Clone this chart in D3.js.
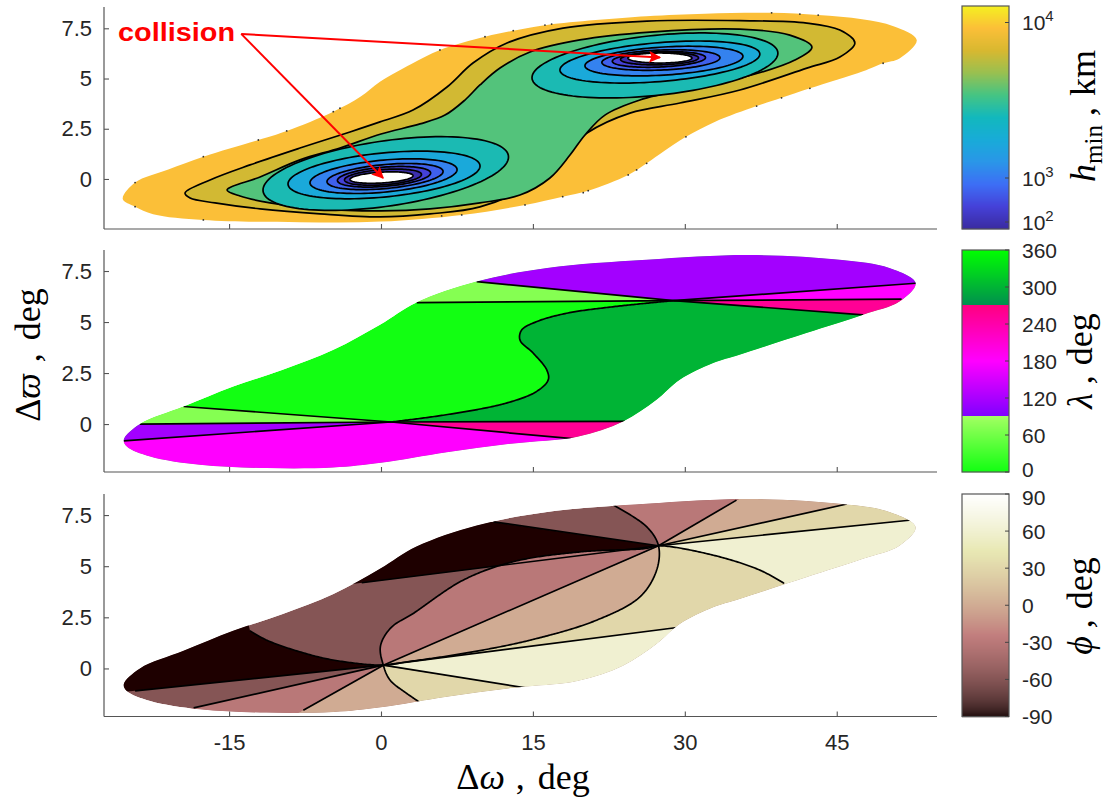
<!DOCTYPE html>
<html>
<head>
<meta charset="utf-8">
<script src="https://cdn.jsdelivr.net/npm/d3@7"></script>
<style>
  body { margin: 0; background: #fff; }
  svg { display: block; }
</style>
</head>
<body>
<svg id="chart" width="1109" height="801"></svg>
<script>
// ---------------- data ----------------
const xTicks = [-15, 0, 15, 30, 45];
const yTicks = [0, 2.5, 5, 7.5];
const xDomain = [-27.35, 54.9];
const yDomainTop = [-2.49, 8.56];
const yDomainLower = [-2.35, 8.53];

// outline of the region where solutions exist (Δω, Δϖ), deg
const domainUpper = [[-25.4,-0.77],[-23.8,0.0],[-19.5,0.86],[-14.6,1.84],[-9.7,2.66],[-4.7,3.64],[-0.1,4.87],[3.5,5.96],[9.45,6.99],[16.4,7.65],[26.2,8.05],[36.4,8.28],[45.3,8.05],[50.2,7.65],[52.8,6.91]];
const domainLower = [[51.2,6.0],[47.6,5.36],[42.0,4.46],[35.4,3.4],[32.8,2.99],[29.5,2.17],[27.2,1.19],[23.9,0.13],[19.4,-0.62],[13.1,-0.95],[6.5,-1.38],[0.0,-1.9],[-4.7,-2.13],[-11.3,-2.16],[-17.9,-2.0],[-22.8,-1.59],[-25.1,-1.1]];

// outermost h_min contour (upper edge left→right, lower edge right→left) and grid specks on it
const hminOuterUpper = [[-25.5,-1.0],[-24.28,-0.18],[-21.0,0.47],[-17.54,1.11],[-12.11,1.94],[-9.31,2.39],[-4.71,3.35],[-2.0,4.1],[-0.1,4.84],[3.0,5.72],[5.82,6.42],[10.27,7.08],[13.06,7.38],[16.52,7.68],[26.2,8.1],[32.0,8.23],[38.57,8.27],[43.17,8.16],[47.5,7.95],[50.6,7.6],[52.9,6.92]];
const hminOuterLower = [[51.2,6.0],[49.58,5.76],[47.6,5.36],[42.35,4.51],[39.55,4.04],[37.09,3.63],[33.0,2.85],[30.11,2.1],[28.0,1.4],[26.23,0.78],[24.41,0.2],[20.46,-0.58],[17.94,-0.88],[14.22,-1.29],[7.97,-1.79],[0.0,-2.12],[-8.0,-2.15],[-17.54,-2.04],[-22.5,-1.75],[-24.28,-1.38]];
const hminSpecks = [[-24.28,-0.18],[-24.28,-1.38],[-17.54,1.11],[-17.54,-2.04],[-12.11,1.94],[-9.31,2.39],[-4.71,3.35],[-4.05,3.52],[5.82,6.42],[10.27,7.08],[13.06,7.38],[16.19,7.66],[16.85,7.71],[5.99,-1.84],[7.97,-1.79],[14.22,-1.29],[17.94,-0.88],[19.97,-0.68],[20.46,-0.58],[24.41,0.2],[25.24,0.45],[26.23,0.78],[30.11,2.1],[37.09,3.63],[38.57,8.27],[41.36,8.21],[43.17,8.16],[49.58,5.76],[42.35,4.51],[39.55,4.04]];

// h_min contour levels (km) used to colour the filled bands, outermost first
const hminBands = [9200, 6400, 3600, 2600, 1700, 1070, 500, 220, 90];
const hminTicks = [100, 1000, 10000];

// closed contours of h_min enclosing both wells
const contourA = [[-19.35,-0.70],[-16.88,-0.05],[-12.93,0.70],[-8.00,1.54],[-3.06,2.34],[-0.10,2.84],[3.16,3.43],[6.52,4.58],[9.08,5.77],[12.44,6.77],[17.97,7.51],[26.26,7.86],[35.44,7.88],[42.05,7.76],[45.31,7.41],[46.79,6.77],[45.31,6.07],[42.05,5.52],[35.44,4.43],[29.52,3.78],[24.58,3.28],[20.34,2.29],[17.67,1.09],[14.71,-0.30],[9.77,-1.39],[4.84,-1.74],[-0.10,-1.89],[-6.02,-1.74],[-11.94,-1.49],[-16.39,-1.19],[-18.85,-0.95]];
const contourB = [[-15.20,-0.55],[-11.94,0.10],[-8.00,0.95],[-4.05,1.54],[0,2.24],[3.85,2.74],[6.32,3.18],[8.29,3.93],[9.77,4.68],[11.75,5.52],[14.71,6.32],[19.64,6.92],[26.55,7.31],[35.44,7.46],[40.37,7.16],[42.55,6.57],[40.87,5.92],[35.44,5.02],[30.50,4.53],[25.57,3.93],[22.11,3.18],[20.14,2.19],[18.66,1.19],[16.68,0.05],[13.72,-0.80],[9.77,-1.19],[4.84,-1.49],[0,-1.59],[-6.02,-1.49],[-10.96,-1.19],[-13.92,-0.85]];
// inner rings around each well: centre Δω, centre Δϖ, half-width, half-height, tilt (innermost = collision zone)
const leftWellRings = [[0.47,0.27,12.12,1.64,0.068],[0.3,0.2,9.48,1.1,0.047],[0.25,0.14,7.26,0.8,0.045],[0.4,0.12,5.73,0.6,0.044],[0.3,0.11,4.6,0.48,0.04],[0.2,0.09,3.8,0.38,0.035],[0.05,0.07,3.11,0.27,0.03]];
const rightWellRings = [[27.05,5.65,12.14,1.5,0.05],[27.54,5.82,9.87,0.97,0.04],[27.94,5.87,7.8,0.7,0.03],[27.64,5.92,5.83,0.5,0.02],[27.44,5.95,4.6,0.38,0.02],[27.5,5.99,3.85,0.31,0.01],[27.54,6.02,3.16,0.25,0.0]];

// annotation
const collisionText = "collision";
const collisionAnchor = [-25.96, 7.31];
const arrowStart = [-13.8, 7.22];
const arrowTargets = [[27.54, 6.05], [0.2, 0.05]];

// λ panel: branch points and level lines
const lamL = [1.0, 0.1];
const lamR = [28.9, 6.05];
const lamSCurve = [[1.0,0.1],[6.49,0.46],[12.4,1.03],[15.37,1.6],[16.52,2.17],[16.36,2.66],[15.04,3.47],[13.72,4.12],[13.89,4.61],[15.37,5.02],[18.33,5.43],[22.94,5.75],[28.9,6.05]];
const lamEndsL = [[-25.4,-0.82],[-19.5,0.86],[19.15,-0.73],[-23.8,0.0],[24.1,0.13]];
const lamEndsR = [[52.8,6.9],[9.45,6.98],[47.6,5.35],[3.52,5.95],[51.4,6.12]];
const lamValues = [0, 300, 72, 115, 180, 255]; // bright green, dark green, light green, violet, magenta, rose
const lamTicks = [0, 60, 120, 180, 240, 300, 360];

// ϕ panel: branch points and level lines
const phiL = [0.23, 0.16];
const phiR = [27.4, 6.0];
const phiArc1 = [[4.51,-1.88],[2.54,-1.22],[0.89,-0.57],[0.23,0.16],[-0.05,1.1],[1.0,2.0],[3.19,2.69],[8.12,4.32],[13.06,5.22],[19.64,5.7],[26.23,5.87],[27.4,6.0],[32.8,5.54],[37.4,4.81],[39.8,4.16]];
const phiArc2 = [[22.94,7.99],[26.23,6.93],[27.4,6.0],[27.22,4.81],[25.57,3.5],[21.29,2.36],[14.71,1.38],[8.12,0.73],[2.54,0.32],[0.23,0.16],[-4.71,0.41],[-8.0,0.81],[-11.28,1.38],[-12.93,1.84]];
const phiRaysL = [[-24.28,-1.1],[-18.5,-1.93],[-7.67,-2.04],[16.19,-1.1],[29.84,2.04]];
const phiRaysR = [[11.09,7.17],[-1.9,4.19],[35.1,8.23],[46.0,8.04],[52.4,7.26]];
const phiTicks = [-90, -60, -30, 0, 30, 60, 90];

// ---------------- layout ----------------
const plotLeft = 104, plotRight = 937;
const cbLeft = 962, cbRight = 1009;
const SANS = "'Liberation Sans', Arial, sans-serif";
const SERIF = "'Liberation Serif', 'DejaVu Serif', serif";
const INK = "#262626";
const LINE_W = 1.7;

const svg = d3.select("#chart");
const defs = svg.append("defs");
const scratch = svg.append("g").attr("visibility", "hidden");

const x = d3.scaleLinear().domain(xDomain).range([plotLeft, plotRight]);
const y1 = d3.scaleLinear().domain(yDomainTop).range([229, 7]);
const y2 = d3.scaleLinear().domain(yDomainLower).range([472, 250]);
const y3 = d3.scaleLinear().domain(yDomainLower).range([716.5, 494]);

// ---------------- colour maps ----------------
const parulaStops = ["#3a2aa0", "#4541d8", "#3d6ef5", "#2a96e8", "#18abd8", "#12b8bd", "#45c483", "#99c050", "#d8b830", "#fbbf38", "#f5f020"];
const parula = d3.scaleLinear().domain(d3.range(parulaStops.length).map(i => i / (parulaStops.length - 1))).range(parulaStops).clamp(true);
const cbHmin = d3.scaleLinear().domain([2, 3, 4]).range([222, 178, 22.5]);
const hminColor = h => parula((229 - cbHmin(Math.log10(h))) / 223);

const lambdaColor = d3.scaleLinear()
  .domain([0, 90, 90.001, 180, 270, 270.001, 360])
  .range(["#12ff12", "#a2ff62", "#7f00ff", "#ff00ff", "#ff0080", "#008f4f", "#00ff00"])
  .clamp(true);

// MATLAB-style "pink" map: sqrt((2*gray + hot)/3)
function pinkMap(t) {
  t = Math.max(0, Math.min(1, t));
  const k = 1 + t * 63;
  const hr = Math.min(1, k / 24);
  const hg = Math.max(0, Math.min(1, (k - 24) / 24));
  const hb = Math.max(0, Math.min(1, (k - 48) / 16));
  const f = v => Math.round(255 * Math.sqrt((2 * t + v) / 3));
  return `rgb(${f(hr)},${f(hg)},${f(hb)})`;
}
const phiColor = v => pinkMap((v + 90) / 180);

// ---------------- helpers ----------------
const toPx = ys => d => [x(d[0]), ys(d[1])];
const straight = d3.line();
const closedSmooth = d3.line().curve(d3.curveCatmullRomClosed);
function densify(px, curve) {
  const p = scratch.append("path").attr("d", d3.line().curve(curve)(px));
  const node = p.node();
  const len = node.getTotalLength();
  const n = Math.max(2, Math.ceil(len / 1.5));
  const out = d3.range(n + 1).map(i => { const q = node.getPointAtLength(len * i / n); return [q.x, q.y]; });
  p.remove();
  return out;
}
function nearestIndex(arr, pt) {
  let bi = 0, bd = Infinity;
  arr.forEach((q, i) => { const d = (q[0] - pt[0]) ** 2 + (q[1] - pt[1]) ** 2; if (d < bd) { bd = d; bi = i; } });
  return bi;
}
const domainPts = domainUpper.concat(domainLower);
const domainPath = ys => closedSmooth(domainPts.map(toPx(ys)));
function ringPts([cx, cy, rx, ry, sh]) {
  return d3.range(120).map(i => { const a = i / 120 * 2 * Math.PI; const dx = rx * Math.cos(a); return [cx + dx, cy + ry * Math.sin(a) + sh * dx]; });
}
function addClip(id, ys) {
  defs.append("clipPath").attr("id", id).append("path").attr("d", domainPath(ys));
}
const polyPx = pts => straight(pts) + "Z";
const strokeLine = (g, d) => g.append("path").attr("d", d).attr("fill", "none").attr("stroke", "#000").attr("stroke-width", LINE_W);

// ---------------- axes ----------------
function drawAxes(ys, top, bottom, showX) {
  const gy = svg.append("g").attr("transform", `translate(${plotLeft},0)`)
    .call(d3.axisLeft(ys).tickValues(yTicks).tickSize(-5).tickSizeOuter(0).tickPadding(12).tickFormat(d => String(d)));
  const gx = svg.append("g").attr("transform", `translate(0,${bottom})`)
    .call(d3.axisBottom(x).tickValues(xTicks).tickSize(-5).tickSizeOuter(0).tickPadding(18).tickFormat(d => showX ? String(d) : ""));
  [gx, gy].forEach(g => {
    g.select(".domain").attr("stroke", "#555").attr("stroke-width", 1.2);
    g.selectAll(".tick line").attr("stroke", "#555").attr("stroke-width", 1.1);
    g.selectAll("text").attr("font-family", SANS).attr("font-size", 22).attr("fill", INK);
  });
  gy.select(".domain").attr("d", `M0,${top}V${bottom}`);
  gx.select(".domain").attr("d", `M${plotLeft},0H${plotRight}`);
}

// ---------------- panel 1: h_min ----------------
const g1 = svg.append("g");
g1.append("path").attr("d", closedSmooth(hminOuterUpper.concat(hminOuterLower).map(toPx(y1))))
  .attr("fill", hminColor(hminBands[0]));
[[contourA, hminBands[1]], [contourB, hminBands[2]]].forEach(([pts, h]) => {
  g1.append("path").attr("d", closedSmooth(pts.map(toPx(y1))))
    .attr("fill", hminColor(h)).attr("stroke", "#000").attr("stroke-width", LINE_W);
});
leftWellRings.forEach((r, i) => {
  [r, rightWellRings[i]].forEach(ring => {
    const last = i === leftWellRings.length - 1;
    g1.append("path").attr("d", polyPx(ringPts(ring).map(toPx(y1))))
      .attr("fill", last ? "#ffffff" : hminColor(hminBands[3 + i]))
      .attr("stroke", "#000").attr("stroke-width", LINE_W);
  });
});
g1.selectAll("circle.speck").data(hminSpecks).join("circle").attr("class", "speck")
  .attr("cx", d => x(d[0])).attr("cy", d => y1(d[1])).attr("r", 0.9).attr("fill", "#333");

// annotation
defs.append("marker").attr("id", "arrowHead").attr("viewBox", "0 0 10 10").attr("refX", 9).attr("refY", 5)
  .attr("markerWidth", 7).attr("markerHeight", 6).attr("markerUnits", "strokeWidth").attr("orient", "auto")
  .append("path").attr("d", "M0,0L10,5L0,10L2,5Z").attr("fill", "#ff0000");
arrowTargets.forEach(t => {
  svg.append("line")
    .attr("x1", x(arrowStart[0])).attr("y1", y1(arrowStart[1]))
    .attr("x2", x(t[0])).attr("y2", y1(t[1]))
    .attr("stroke", "#ff0000").attr("stroke-width", 2).attr("marker-end", "url(#arrowHead)");
});
svg.append("text").attr("x", x(collisionAnchor[0])).attr("y", y1(collisionAnchor[1])).attr("dy", "0.35em")
  .attr("font-family", SANS).attr("font-weight", "bold").attr("font-size", 26).attr("fill", "#ff0000")
  .attr("textLength", 117).attr("lengthAdjust", "spacingAndGlyphs")
  .text(collisionText);

drawAxes(y1, 7, 229, false);

// ---------------- panel 2: λ ----------------
addClip("clipL", y2);
const g2 = svg.append("g").attr("clip-path", "url(#clipL)");
const P2 = toPx(y2);
const sPx = densify(lamSCurve.map(P2), d3.curveCatmullRom);
const [lamBright, lamDark, lamLight, lamViolet, lamMagenta, lamRose] = lamValues;
g2.append("path").attr("d", domainPath(y2)).attr("fill", lambdaColor(lamBright));
// region on the far side of the S-shaped line
g2.append("path").attr("d", polyPx(sPx.concat([[60,4.89],[60,-3],[30,-3],[30,0.14]].map(P2)))).attr("fill", lambdaColor(lamDark));
const lamPolys = [
  [[lamL,[30,0.14],[30,-1.23]], lamRose],
  [[lamR,[60,6.15],[60,4.89]], lamRose],
  [[lamL,[30,-1.23],[30,-5],[-30,-5],[-30,-0.98]], lamMagenta],
  [[lamR,[60,7.16],[60,6.15]], lamMagenta],
  [[lamL,[-30,-0.98],[-30,-0.025]], lamViolet],
  [[lamR,[60,7.16],[60,12],[0,12],[0,7.43]], lamViolet],
  [[lamL,[-30,-0.025],[-30,1.25]], lamLight],
  [[lamR,[0,7.43],[0,5.94]], lamLight]
];
lamPolys.forEach(([pts, v]) => g2.append("path").attr("d", polyPx(pts.map(P2))).attr("fill", lambdaColor(v)));
strokeLine(g2, straight(sPx));
lamEndsL.forEach(e => strokeLine(g2, straight([lamL, e].map(P2))));
lamEndsR.forEach(e => strokeLine(g2, straight([lamR, e].map(P2))));
drawAxes(y2, 250, 472, false);

// ---------------- panel 3: ϕ ----------------
addClip("clipP", y3);
const g3 = svg.append("g").attr("clip-path", "url(#clipP)");
const P3 = toPx(y3);
const m = pts => pts.map(P3);
const arc1 = densify(m(phiArc1), d3.curveCatmullRom);
const arc2 = densify(m(phiArc2), d3.curveCatmullRom);
const Lpx = P3(phiL), Rpx = P3(phiR);
const a1L = nearestIndex(arc1, Lpx), a1R = nearestIndex(arc1, Rpx);
const a2L = nearestIndex(arc2, Lpx), a2R = nearestIndex(arc2, Rpx);
const arc1Down = arc1.slice(0, a1L + 1);        // lower edge -> L
const arc1Mid = arc1.slice(a1L, a1R + 1);        // L -> R, upper arc
const arc1Right = arc1.slice(a1R);               // R -> lower edge
const arc2Top = arc2.slice(0, a2R + 1);          // upper edge -> R
const arc2Mid = arc2.slice(a2R, a2L + 1);        // R -> L, lower arc
const arc2Left = arc2.slice(a2L);                // L -> upper edge
const rev = a => a.slice().reverse();
const fill3 = (px, v) => g3.append("path").attr("d", polyPx(px)).attr("fill", phiColor(v));

g3.append("path").attr("d", domainPath(y3)).attr("fill", phiColor(-60));
fill3([Lpx].concat(arc2Left, m([[-14,4],[-30,4],[-30,-1.39]])), -90);
fill3(m([phiR,[-5,8.29],[-5,4.0]]), -90);
fill3(arc1Mid, -30);
fill3(arc2Mid, 0);
fill3(m([phiL,[-22,-2.32],[-9,-2.41]]), -30);
fill3(m([phiL,[-9,-2.41],[5.0,-2.6]]).concat(arc1Down), 0);
fill3(rev(arc1Down).concat(m([[5.0,-2.6],[18,-2.6],[18,-1.24]])), 30);
fill3(m([phiL,[18,-1.24],[18,-3],[32,-3],[32,2.18]]), 60);
fill3(m([phiL,[32,2.18],[40,2],[41,3.8]]).concat(rev(arc1Right), arc2Mid), 30);
fill3(arc1Right.concat(m([[41,3.8],[60,3],[60,7.63]])), 60);
fill3(m([phiR,[60,7.63],[60,9.56]]), 30);
fill3(m([phiR,[60,9.56],[60,12],[40,12],[40,9.63]]), 0);
fill3(m([phiR,[40,9.63],[40,12],[22,12],[22.6,8.6]]).concat(arc2Top), -30);

[arc1, arc2].forEach(a => strokeLine(g3, straight(a)));
phiRaysL.forEach(e => strokeLine(g3, straight(m([phiL, e]))));
phiRaysR.forEach(e => strokeLine(g3, straight(m([phiR, e]))));
strokeLine(g3, straight(m([phiL, phiR])));
drawAxes(y3, 494, 716.5, true);

// ---------------- axis titles ----------------
function mathTitle(parts, attrs) {
  const t = svg.append("text").attr("font-family", SERIF).attr("fill", "#000").attr("font-size", 36);
  Object.entries(attrs).forEach(([k, v]) => t.attr(k, v));
  parts.forEach(([s, style, dx]) => {
    const ts = t.append("tspan").text(s);
    if (dx) ts.attr("dx", dx);
    if (style === "i") ts.attr("font-style", "italic");
    if (style === "sub") ts.attr("font-size", 25).attr("dy", 7);
    if (style === "up") ts.attr("dy", -7);
  });
  return t;
}
mathTitle([["Δ", ""], ["ϖ", "i"], [",", "", 11], ["deg", "", 13]],
  { transform: "translate(40,355) rotate(-90)", "text-anchor": "middle" });
mathTitle([["Δ", ""], ["ω", "i"], [",", "", 11], ["deg", "", 13]],
  { x: 523, y: 789, "text-anchor": "middle" });
mathTitle([["h", "i"], ["min", "sub"], [",", "up", 9], ["km", "", 11]],
  { transform: "translate(1095,116) rotate(-90)", "text-anchor": "middle" });
mathTitle([["λ", "i"], [",", "", 9], ["deg", "", 10]],
  { transform: "translate(1092,361) rotate(-90)", "text-anchor": "middle" });
mathTitle([["ϕ", "i"], [",", "", 8], ["deg", "", 10]],
  { transform: "translate(1092,606) rotate(-90)", "text-anchor": "middle" });

// ---------------- colour bars ----------------
function colorBar(top, bottom, colorAt, ticks, tickY, label) {
  const g = svg.append("g");
  for (let yy = top; yy < bottom; yy += 1) {
    const t = (bottom - (yy + 0.5)) / (bottom - top);
    g.append("rect").attr("x", cbLeft).attr("y", yy).attr("width", cbRight - cbLeft).attr("height", 1.2).attr("fill", colorAt(t));
  }
  g.append("rect").attr("x", cbLeft).attr("y", top).attr("width", cbRight - cbLeft).attr("height", bottom - top)
    .attr("fill", "none").attr("stroke", "#555").attr("stroke-width", 1.2);
  ticks.forEach((v, i) => {
    const ty = tickY(v);
    g.append("line").attr("x1", cbRight - 4).attr("x2", cbRight).attr("y1", ty).attr("y2", ty).attr("stroke", "#444");
    label(g, v, ty, i);
  });
}
const cbText = (g, ty) => g.append("text").attr("x", 1022).attr("y", ty).attr("dy", "0.36em")
  .attr("font-family", SANS).attr("font-size", 21).attr("fill", INK);
colorBar(6, 229, t => parula(t), hminTicks, v => cbHmin(Math.log10(v)), (g, v, ty) => {
  const t = cbText(g, ty);
  t.append("tspan").text("10");
  t.append("tspan").attr("dy", -9).attr("font-size", 15).text(String(Math.round(Math.log10(v))));
});
const lamBar = d3.scaleLinear().domain([0, 360]).range([472, 250]);
colorBar(250, 472, t => lambdaColor(t * 360), lamTicks, v => lamBar(v), (g, v, ty, i) => {
  cbText(g, i === 0 ? ty - 3 : ty).text(String(v));
});
const phiBar = d3.scaleLinear().domain([-90, 90]).range([716.5, 494]);
colorBar(494, 716.5, t => pinkMap(t), phiTicks, v => phiBar(v), (g, v, ty, i) => {
  cbText(g, i === phiTicks.length - 1 ? ty + 3 : ty).text(String(v));
});
</script>
</body>
</html>
